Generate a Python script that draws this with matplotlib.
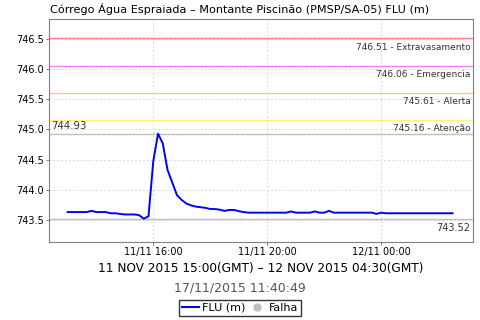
import numpy as np
import matplotlib
matplotlib.use("Agg")
import matplotlib.pyplot as plt
from matplotlib.lines import Line2D

# FLU readings, every 10 minutes, 11/11/2015 13:00 .. 12/11/2015 02:30 (local)
start = np.datetime64("2015-11-11T13:00")
flu = [743.63, 743.63, 743.63, 743.63, 743.63, 743.65, 743.63, 743.63, 743.63, 743.61,
       743.61, 743.60, 743.59, 743.59, 743.59, 743.58, 743.52, 743.56, 744.47, 744.93,
       744.77, 744.33, 744.12, 743.91, 743.83, 743.77, 743.74, 743.72, 743.71, 743.70,
       743.68, 743.68, 743.67, 743.65, 743.665, 743.665, 743.645, 743.63, 743.62, 743.62,
       743.62, 743.62, 743.62, 743.62, 743.62, 743.62, 743.62, 743.64, 743.62, 743.62,
       743.62, 743.62, 743.64, 743.62, 743.62, 743.65, 743.62, 743.62, 743.62, 743.62,
       743.62, 743.62, 743.62, 743.62, 743.62, 743.60, 743.62, 743.61, 743.61, 743.61,
       743.61, 743.61, 743.61, 743.61, 743.61, 743.61, 743.61, 743.61, 743.61, 743.61,
       743.61, 743.61]
times = start + np.arange(len(flu)) * np.timedelta64(10, "m")

limit_values = [746.51, 746.06, 745.61, 745.16]
limit_names = ["Extravasamento", "Emergencia", "Alerta", "Atenção"]
limit_colors = ["#ff8080", "#ee82ee", "#ffc880", "#fff080"]

yticks = [743.5, 744.0, 744.5, 745.0, 745.5, 746.0, 746.5]
xticks = [np.datetime64("2015-11-11T16:00"), np.datetime64("2015-11-11T20:00"),
          np.datetime64("2015-11-12T00:00")]
xtick_labels = ["11/11 16:00", "11/11 20:00", "12/11 00:00"]

title = "Córrego Água Espraiada – Montante Piscinão (PMSP/SA-05) FLU (m)"
period = "11 NOV 2015 15:00(GMT) – 12 NOV 2015 04:30(GMT)"
stamp = "17/11/2015 11:40:49"

plt.rcParams["font.family"] = ["DejaVu Sans"]

fig = plt.figure(figsize=(4.8, 3.2), dpi=100)
ax = fig.add_axes([0.103, 0.245, 0.882, 0.695])

ax.set_xlim(np.datetime64("2015-11-11T12:21:30"), np.datetime64("2015-11-12T03:12:30"))
ax.set_ylim(743.14, 746.83)

ax.set_yticks(yticks)
ax.set_yticklabels(["%.1f" % v for v in yticks])
ax.set_xticks(xticks)
ax.set_xticklabels(xtick_labels)
ax.tick_params(labelsize=7, length=2, color="#808080", pad=2)
ax.grid(True, linestyle=(0, (2, 2)), color="#d8d8d8", linewidth=0.7)
for s in ax.spines.values():
    s.set_color("#808080")

for v, n, c in zip(limit_values, limit_names, limit_colors):
    ax.axhline(v, color=c, linewidth=1)
    ax.annotate("%.2f - %s" % (v, n), xy=(0.995, v), xycoords=("axes fraction", "data"),
                xytext=(0, -3), textcoords="offset points", ha="right", va="top",
                fontsize=6.5, color="#333333")

vmax = max(flu)
vmin = min(flu)
ax.axhline(vmax, color="#c0c0c0", linewidth=1)
ax.axhline(vmin, color="#c0c0c0", linewidth=1)
ax.annotate("%.2f" % vmax, xy=(0.005, vmax), xycoords=("axes fraction", "data"),
            xytext=(0, 2), textcoords="offset points", ha="left", va="bottom",
            fontsize=7.3, color="#333333")
ax.annotate("%.2f" % vmin, xy=(0.995, vmin), xycoords=("axes fraction", "data"),
            xytext=(0, -3), textcoords="offset points", ha="right", va="top",
            fontsize=7, color="#333333")

ax.plot(times, flu, color="#0000ff", linewidth=1.4)

fig.text(0.5, 0.972, title, ha="center", va="center", fontsize=8.1)
# period line is centred under the plot area, the timestamp under the figure
fig.text(0.544, 0.16, period, ha="center", va="center", fontsize=8.75)
fig.text(0.5, 0.10, stamp, ha="center", va="center", fontsize=9, color="#555555")

handles = [Line2D([], [], color="#0000ff", linewidth=1.5),
           Line2D([], [], color="#c0c0c0", marker="o", linestyle="none", markersize=5)]
leg = fig.legend(handles, ["FLU (m)", "Falha"], loc="center", bbox_to_anchor=(0.5, 0.0375),
                 ncol=2, fontsize=8, frameon=True, fancybox=False, handlelength=1.5,
                 handletextpad=0.3, columnspacing=0.3, borderpad=0.3, borderaxespad=0)
leg.get_frame().set_edgecolor("black")
leg.get_frame().set_linewidth(1)

fig.savefig("out.png", dpi=100)
